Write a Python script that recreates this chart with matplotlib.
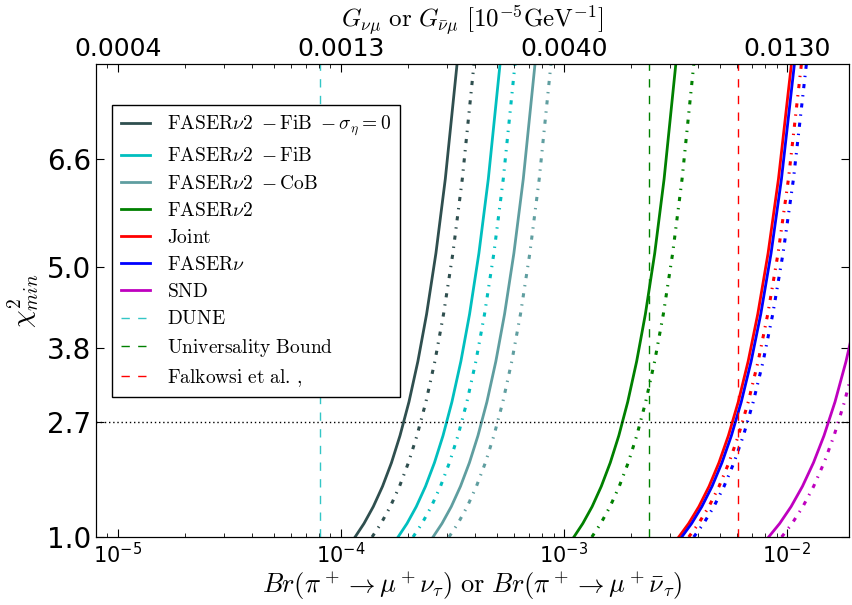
import numpy as np
import matplotlib.pyplot as plt

plt.rcParams['mathtext.fontset'] = 'cm'
plt.rcParams['lines.scale_dashes'] = False

chi2_levels = [1.0, 1.2, 1.45, 1.75, 2.1, 2.5, 3.0, 3.6, 4.3, 5.2, 6.3, 8.0]

# Br read at those levels: solid curve, then the dash-dot one (units 1e-4 / 1e-3)
br_fib0 = np.array([1.160, 1.272, 1.400, 1.540, 1.689, 1.844, 2.023, 2.218, 2.427, 2.672, 2.944, 3.323]) * 1e-4
br_fib0_dd = np.array([1.382, 1.516, 1.668, 1.835, 2.012, 2.197, 2.410, 2.643, 2.891, 3.183, 3.508, 3.958]) * 1e-4
br_fib = np.array([1.808, 1.983, 2.182, 2.400, 2.632, 2.875, 3.152, 3.457, 3.782, 4.164, 4.589, 5.179]) * 1e-4
br_fib_dd = np.array([2.110, 2.314, 2.547, 2.801, 3.072, 3.355, 3.679, 4.035, 4.414, 4.860, 5.355, 6.044]) * 1e-4
br_cob = np.array([2.594, 2.845, 3.131, 3.443, 3.776, 4.124, 4.523, 4.960, 5.427, 5.975, 6.584, 7.430]) * 1e-4
br_cob_dd = np.array([3.058, 3.353, 3.691, 4.059, 4.452, 4.862, 5.332, 5.847, 6.397, 7.043, 7.761, 8.759]) * 1e-4
br_fnu2 = np.array([1.110, 1.217, 1.340, 1.473, 1.616, 1.765, 1.935, 2.122, 2.322, 2.557, 2.817, 3.179]) * 1e-3
br_fnu2_dd = np.array([1.336, 1.465, 1.612, 1.773, 1.945, 2.124, 2.329, 2.555, 2.795, 3.077, 3.391, 3.827]) * 1e-3
br_joint = np.array([3.277, 3.629, 4.034, 4.481, 4.962, 5.470, 6.057, 6.707, 7.408, 8.239, 9.172, 10.483]) * 1e-3
br_joint_dd = np.array([3.633, 4.023, 4.472, 4.968, 5.501, 6.064, 6.715, 7.436, 8.213, 9.134, 10.168, 11.622]) * 1e-3
br_fnu = np.array([3.380, 3.743, 4.160, 4.622, 5.118, 5.642, 6.248, 6.918, 7.641, 8.498, 9.460, 10.812]) * 1e-3
br_fnu_dd = np.array([3.825, 4.235, 4.708, 5.230, 5.792, 6.385, 7.070, 7.829, 8.647, 9.616, 10.706, 12.236]) * 1e-3
br_snd = np.array([8.289, 9.287, 10.450, 11.750, 13.164, 14.675, 16.441, 18.421, 20.579, 23.167, 26.111, 30.305]) * 1e-3
br_snd_dd = np.array([9.478, 10.555, 11.802, 13.188, 14.685, 16.277, 18.127, 20.186, 22.417, 25.079, 28.086, 32.338]) * 1e-3

# vertical bounds
br_dune = 8.1e-5
br_univ = 2.40e-3
br_falk = 6.05e-3

yticks = [1.0, 2.7, 3.8, 5.0, 6.6]
xticks = [1e-5, 1e-4, 1e-3, 1e-2]
xtick_labels = [r'$10^{-5}$', r'$10^{-4}$', r'$10^{-3}$', r'$10^{-2}$']
top_labels = ['0.0004', '0.0013', '0.0040', '0.0130']

curves = [
    (br_fib0, br_fib0_dd, 'darkslategray', r'$\mathrm{FASER}\nu2\ -\mathrm{FiB}\ -\sigma_\eta=0$'),
    (br_fib, br_fib_dd, '#00bfbf', r'$\mathrm{FASER}\nu2\ -\mathrm{FiB}$'),
    (br_cob, br_cob_dd, 'cadetblue', r'$\mathrm{FASER}\nu2\ -\mathrm{CoB}$'),
    (br_fnu2, br_fnu2_dd, 'green', r'$\mathrm{FASER}\nu2$'),
    (br_joint, br_joint_dd, 'red', r'$\mathrm{Joint}$'),
    (br_fnu, br_fnu_dd, 'blue', r'$\mathrm{FASER}\nu$'),
    (br_snd, br_snd_dd, '#bf00bf', r'$\mathrm{SND}$'),
]

fig = plt.figure(figsize=(8.52, 6.05), dpi=100)
ax = fig.add_axes([0.1127, 0.1124, 0.8838, 0.7816])

for solid, dd, col, lab in curves:
    ax.plot(solid, chi2_levels, color=col, lw=2, label=lab)
    ax.plot(dd, chi2_levels, color=col, lw=2.2, dashes=(3, 5, 1, 5))

ax.axvline(br_dune, color='#33c6c6', lw=1, dashes=(6, 6), label=r'$\mathrm{DUNE}$')
ax.axvline(br_univ, color='green', lw=1, dashes=(6, 6), label=r'$\mathrm{Universality\ Bound}$')
ax.axvline(br_falk, color='red', lw=1, dashes=(6, 6), label=r'$\mathrm{Falkowsi\ et\ al.}\,,$')
ax.axhline(2.7, color='black', lw=1, dashes=(1, 2))

ax.set_xscale('log')
ax.set_xlim(8e-6, 1.9e-2)
ax.set_ylim(1, 8)
ax.set_yticks(yticks)
ax.set_yticklabels(['%.1f' % t for t in yticks], fontsize=20)
ax.set_xticks(xticks)
ax.set_xticklabels(xtick_labels, fontsize=15, math_fontfamily='dejavusans')
ax.xaxis.set_minor_formatter(plt.NullFormatter())
ax.tick_params(which='both', direction='in', top=False, right=True)
ax.tick_params(which='major', length=6)
ax.tick_params(which='minor', length=3)
ax.set_xlabel(r'$Br(\pi^+ \to \mu^+ \nu_\tau)\ \mathrm{or}\ Br(\pi^+ \to \mu^+ \bar{\nu}_\tau)$',
              fontsize=19, labelpad=2)
ax.set_ylabel(r'$\chi^2_{min}$', fontsize=20)

ax2 = ax.twiny()
ax2.set_xscale('log')
ax2.set_xlim(ax.get_xlim())
ax2.set_xticks(xticks)
ax2.set_xticklabels(top_labels, fontsize=18)
ax2.xaxis.set_minor_formatter(plt.NullFormatter())
ax2.tick_params(which='both', direction='in', pad=2)
ax2.tick_params(which='major', length=6)
ax2.tick_params(which='minor', length=3)
ax2.set_xlabel(r'$G_{\nu\mu}\ \mathrm{or}\ G_{\bar{\nu}\mu}\ [10^{-5}\mathrm{GeV}^{-1}]$',
               fontsize=18, labelpad=7)

leg = ax.legend(loc='upper left', bbox_to_anchor=(0.021, 0.913), borderaxespad=0,
                fontsize=14, fancybox=False, framealpha=1, edgecolor='black',
                handlelength=1.5, handletextpad=0.9, labelspacing=0.42, borderpad=0.45)
leg.get_frame().set_linewidth(1.0)

fig.savefig('out.png', dpi=100)
